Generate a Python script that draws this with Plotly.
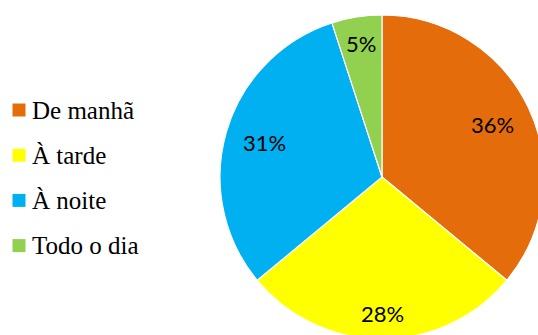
import math
import plotly.graph_objects as go

# Período do dia preferido (percentagem das respostas)
labels = ["De manhã", "À tarde", "À noite", "Todo o dia"]
values = [36, 28, 31, 5]
colors = ["#E46C0A", "#FFFF00", "#00B0F0", "#92D050"]

W, H = 545, 354  # canvas slightly larger than the view so the pie bleeds off the edges
cx, cy, r = 382, 177, 162  # pie centre and radius in pixels

SERIF = "Liberation Serif"
SANS = "Lato"


def px_x(x):
    return x / W


def px_y(y):
    return 1 - y / H


fig = go.Figure()

# Empty cartesian layer under the pie (axes hidden)
fig.add_trace(go.Scatter(x=[], y=[], showlegend=False, hoverinfo="skip"))

fig.add_trace(
    go.Pie(
        labels=labels,
        values=values,
        sort=False,
        direction="clockwise",
        rotation=0,
        marker=dict(colors=colors, line=dict(color="white", width=1.2)),
        textinfo="none",
        domain=dict(x=[px_x(cx - r), px_x(cx + r)], y=[px_y(cy + r), px_y(cy - r)]),
        showlegend=False,
        hoverinfo="label+percent",
    )
)

# Data labels: horizontal text placed near the outer end of each slice,
# along the slice's bisector, so the label box stays inside the pie.
total = sum(values)
cum = 0
for v in values:
    theta = 2 * math.pi * (cum + v / 2) / total  # clockwise from 12 o'clock
    cum += v
    txt = f"{v}%"
    hw = 7.2 * len(txt)  # half label width
    hh = 9.0            # half label height
    rc = 0.9 * r - (hw * abs(math.sin(theta)) + hh * abs(math.cos(theta)))
    fig.add_annotation(
        x=px_x(cx + rc * math.sin(theta)), y=px_y(cy - rc * math.cos(theta)),
        xref="paper", yref="paper", xanchor="center", yanchor="middle",
        showarrow=False, text=txt,
        font=dict(family=SANS, size=22, color="black"),
    )

# Legend drawn at the left: coloured square + label
row0, row_gap = 110, 45.2
for i, (lab, col) in enumerate(zip(labels, colors)):
    yc = row0 + i * row_gap
    fig.add_shape(
        type="rect", xref="paper", yref="paper",
        x0=px_x(12.5), x1=px_x(25.5), y0=px_y(yc + 6.5), y1=px_y(yc - 6.5),
        fillcolor=col, line=dict(width=0),
    )
    fig.add_annotation(
        x=px_x(30), y=px_y(yc), xref="paper", yref="paper",
        xanchor="left", yanchor="middle", showarrow=False,
        text=lab, font=dict(family=SERIF, size=25, color="black"),
    )

fig.update_layout(
    width=W, height=H,
    margin=dict(l=0, r=0, t=0, b=0),
    font=dict(family=SERIF),
    xaxis=dict(visible=False),
    yaxis=dict(visible=False),
    paper_bgcolor="white", plot_bgcolor="white",
)

fig.write_html("out.html")
